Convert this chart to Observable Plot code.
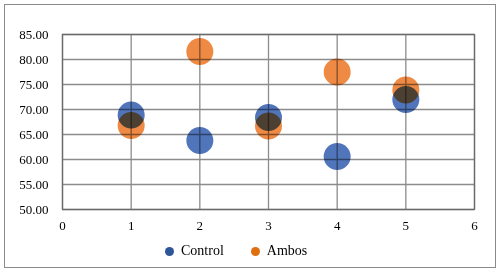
<!DOCTYPE html>
<html>
<head>
<meta charset="utf-8">
<script src="https://cdn.jsdelivr.net/npm/d3@7"></script>
<script src="https://cdn.jsdelivr.net/npm/@observablehq/plot@0.6"></script>
<style>
  body { margin: 0; background: #fff; }
  #wrap { position: relative; width: 499px; height: 273px; overflow: hidden; font-family: "Liberation Serif", serif; }
  #border { position: absolute; left: 4px; top: 4px; width: 490px; height: 262px; border: 1px solid #8a8a8a; }
  #chart { position: absolute; left: 0; top: 0; }
  #legend { position: absolute; left: 165px; top: 243px; display: flex; align-items: center; font-size: 14px; color: #000; }
  .item { display: flex; align-items: center; margin-right: 27px; }
  .dot { width: 9px; height: 9px; border-radius: 50%; margin-right: 7px; }
</style>
</head>
<body>
<div id="wrap">
  <div id="border"></div>
  <div id="chart"></div>
  <div id="legend"></div>
</div>
<script>
const xs = [1, 2, 3, 4, 5];
const control = [68.9, 63.8, 68.4, 60.6, 72.0];
const ambos = [66.8, 81.6, 66.7, 77.5, 73.9];
const seriesNames = ["Control", "Ambos"];
const seriesColors = ["#3E66B4", "#ED7D31"];
const legendColors = ["#2E5597", "#E0700F"];
const yTicks = [50, 55, 60, 65, 70, 75, 80, 85];
const xTicks = [0, 1, 2, 3, 4, 5, 6];

const data = [];
xs.forEach((x, i) => data.push({x, y: control[i], s: seriesNames[0]}));
xs.forEach((x, i) => data.push({x, y: ambos[i], s: seriesNames[1]}));

const chart = Plot.plot({
  width: 499,
  height: 240,
  marginLeft: 62,
  marginRight: 25,
  marginTop: 34,
  marginBottom: 31,
  style: {fontFamily: "Liberation Serif, serif", fontSize: "13px", color: "#000", background: "transparent"},
  x: {domain: [0, 6], ticks: xTicks, tickSize: 0, tickPadding: 12, label: null, tickFormat: d => String(d)},
  y: {domain: [50, 85], ticks: yTicks, tickSize: 0, tickPadding: 14, label: null, tickFormat: d => d.toFixed(2)},
  color: {domain: seriesNames, range: seriesColors},
  marks: [
    Plot.gridX(xTicks, {stroke: "#8c8c8c", strokeOpacity: 1, strokeWidth: 1.3}),
    Plot.gridY(yTicks, {stroke: "#8c8c8c", strokeOpacity: 1, strokeWidth: 1.3}),
    Plot.frame({stroke: "#6a6a6a", strokeWidth: 1.3}),
    Plot.dot(data, {x: "x", y: "y", fill: "s", r: 13.5, fillOpacity: 0.9, mixBlendMode: "multiply"}),
    Plot.axisX({ticks: xTicks, tickSize: 0, tickPadding: 11, fontSize: 13, tickFormat: d => String(d)}),
    Plot.axisY({ticks: yTicks, tickSize: 0, tickPadding: 14, fontSize: 13, tickFormat: d => d.toFixed(2)})
  ]
});
document.getElementById("chart").appendChild(chart);

const legend = document.getElementById("legend");
seriesNames.forEach((name, i) => {
  const item = document.createElement("div");
  item.className = "item";
  const dot = document.createElement("span");
  dot.className = "dot";
  dot.style.background = legendColors[i];
  const t = document.createElement("span");
  t.textContent = name;
  item.appendChild(dot);
  item.appendChild(t);
  legend.appendChild(item);
});
</script>
</body>
</html>
